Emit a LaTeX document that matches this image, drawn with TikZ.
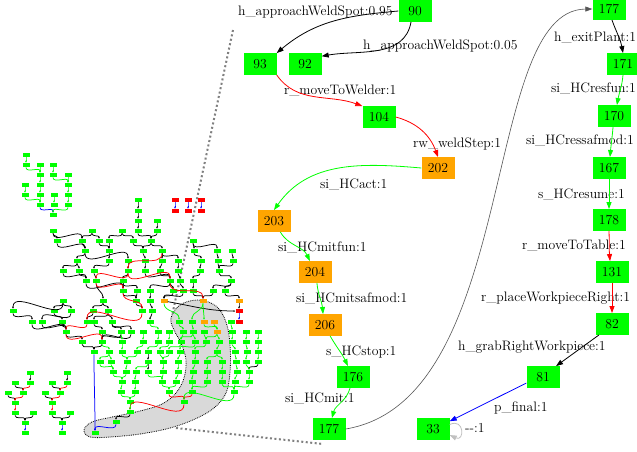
\documentclass[tikz,border=0pt]{standalone}
\usepackage{tikz}
\usetikzlibrary{arrows.meta}

\definecolor{nodegreen}{RGB}{0,255,0}
\definecolor{nodeorange}{RGB}{255,165,0}
\definecolor{nodered}{RGB}{255,0,0}
\definecolor{edgegray}{RGB}{85,85,85}
\definecolor{loopgray}{RGB}{192,192,192}
\definecolor{blobgray}{RGB}{217,217,217}
\definecolor{zoomgray}{RGB}{128,128,128}

\begin{document}
\begin{tikzpicture}[x=1pt, y=-1pt,
      bigbox/.style={fill=nodegreen, minimum width=33pt, minimum height=21.5pt, inner sep=0pt,
          font=\fontsize{13.7}{16}\selectfont},
      lbl/.style={anchor=base west, inner sep=0pt, font=\fontsize{13.7}{16}\selectfont},
      mini/.style={fill=nodegreen, minimum width=7pt, minimum height=4.5pt, inner sep=0pt},
      ed/.style={line width=0.8pt, -{Triangle[length=7pt,width=5pt]}},
      edk/.style={ed, black}, edr/.style={ed, red}, edg/.style={ed, nodegreen},
      edb/.style={ed, blue}, edd/.style={ed, edgegray, line width=0.6pt},
      edl/.style={ed, loopgray},
      ov/.style={line width=0.75pt, -{Triangle[length=1.8pt,width=1.6pt]}},
      ovk/.style={ov, black}, ovr/.style={ov, red}, ovg/.style={ov, nodegreen}, ovb/.style={ov, blue},
      zoomline/.style={zoomgray, line width=2pt, dash pattern=on 2pt off 2.5pt}]

      \fill[white] (0,0) rectangle (637,451);
      \useasboundingbox (0,0) rectangle (637,451);

      % highlighted part of the overview
      \draw[fill=blobgray, line width=0.8pt, densely dotted]
          plot[smooth cycle, tension=0.6] coordinates {
          (171,318) (180,305) (198,300) (216,306) (226,322) (230,345) (230,372) (226,393)
          (214,408) (195,419) (170,428) (140,434) (110,437) (90,437) (84,430) (92,422)
          (112,417) (140,411) (162,404) (176,393) (184,378) (186,360) (181,343) (174,330)};

      \coordinate (zt) at (233,30);
      \coordinate (bt) at (172,316);
      \coordinate (bb) at (176,428);
      \coordinate (zb) at (323,444);
      \draw[zoomline] (zt) -- (bt);
      \draw[zoomline] (bb) -- (zb);

      % overview
      \foreach \x/\y in {26/155,26/165,40/165,53/165,40/175,53/175,68/175,25/185,40/185,68/185,
          25/195,40/195,54/195,68/195,40/205,54/205,68/205,53/215,
          30/373,15/383,30/383,8/393,23/393,15/403,15/413,33/413,25/423,25/433,
          67/373,52/383,67/383,45/393,60/393,52/403,52/413,70/413,62/423,62/433,
          138/200,138/211,138/221,157/221,
          53/231,92/231,122/231,138/231,157/231,
          57/241,82/241,99/241,109/241,133/241,151/241,193/241,
          85/251,109/251,143/251,162/251,194/251,217/251,232/251,
          77/261,109/261,128/261,145/261,162/261,178/261,201/261,218/261,233/261,
          63/271,79/271,94/271,128/271,145/271,160/271,178/271,200/271,219/271,
          86/281,96/281,123/281,170/281,180/281,193/281,231/281,
          123/291,137/291,150/291,173/291,183/291,193/291,213/291,225/291,
          63/301,103/301,136/301,150/301,
          13/311,54/311,71/311,93/311,108/311,142/311,152/311,
          32/322,42/322,62/322,87/322,94/322,112/322,150/322,179/322,192/322,231/322,
          66/332,102/332,121/332,131/332,143/332,158/332,169/332,183/332,193/332,204/332,232/332,246/332,258/332,
          82/342,102/342,122/342,143/342,158/342,169/342,181/342,195/342,206/342,219/342,232/342,246/342,258/342,
          94/352,109/352,122/352,137/352,148/352,160/352,169/352,180/352,195/352,217/352,235/352,247/352,258/352,
          100/362,111/362,127/362,148/362,163/362,178/362,195/362,207/362,222/362,236/362,246/362,258/362,
          113/372,126/372,136/372,148/372,163/372,178/372,193/372,207/372,222/372,237/372,249/372,
          122/382,135/382,162/382,176/382,192/382,207/382,222/382,235/382,249/382,
          121/392,135/392,169/392,192/392,234/392,
          130/402,184/402,130/412,116/422,95/433}
          \node[mini] (o\x-\y) at (\x,\y) {};
      \foreach \x/\y in {175/200,188/200,201/200,175/211,188/211,201/211,239/311,239/322}
          \node[mini, fill=nodered] (o\x-\y) at (\x,\y) {};
      \foreach \x/\y in {164/301,203/301,239/301,204/322,214/322,217/332}
          \node[mini, fill=nodeorange] (o\x-\y) at (\x,\y) {};

      \foreach \a/\b in {30-373/30-383,15-383/23-393,8-393/15-403,15-413/25-423,33-413/25-423,
          67-373/67-383,52-383/60-393,45-393/52-403,52-413/62-423,70-413/62-423,
          138-200/138-211,138-211/138-221,138-221/138-231,157-221/157-231,
          53-231/57-241,53-231/82-241,92-231/82-241,92-231/99-241,122-231/109-241,122-231/133-241,
          138-231/151-241,157-231/151-241,
          57-241/85-251,82-241/85-251,99-241/109-251,109-241/109-251,133-241/143-251,151-241/143-251,
          151-241/162-251,193-241/194-251,193-241/217-251,
          85-251/77-261,85-251/128-261,109-251/109-261,143-251/145-261,162-251/162-261,162-251/178-261,
          194-251/201-261,217-251/218-261,232-251/233-261,
          77-261/63-271,77-261/79-271,109-261/94-271,128-261/128-271,145-261/145-271,162-261/160-271,
          178-261/178-271,201-261/200-271,218-261/219-271,233-261/219-271,
          63-271/86-281,79-271/86-281,94-271/96-281,128-271/123-281,145-271/170-281,160-271/170-281,
          178-271/180-281,200-271/193-281,219-271/231-281,
          86-281/123-291,123-281/123-291,123-281/137-291,170-281/150-291,170-281/173-291,180-281/183-291,
          193-281/193-291,231-281/213-291,231-281/225-291,96-281/103-301,
          123-291/136-301,137-291/136-301,150-291/150-301,173-291/164-301,183-291/164-301,193-291/203-301,
          213-291/203-301,225-291/239-301,
          63-301/54-311,63-301/13-311,63-301/71-311,103-301/93-311,103-301/108-311,136-301/142-311,
          150-301/152-311,239-301/239-311,
          13-311/32-322,54-311/62-322,71-311/42-322,93-311/87-322,108-311/94-322,108-311/112-322,152-311/150-322,
          32-322/66-332,42-322/66-332,62-322/66-332,94-322/102-332,112-322/121-332,112-322/131-332,
          66-332/82-342,102-332/102-342,121-332/102-342,131-332/102-342,
          82-342/94-352,102-342/94-352,
          148-352/148-362,148-362/148-372,258-362/249-372,130-412/116-422}
          \draw[ovk] (o\a) to[out=-90,in=90] (o\b);
      \draw[ovk] (o164-301) to[out=-10,in=180] (o239-311);

      \foreach \a/\b in {30-383/23-393,23-393/15-403,15-403/15-413,
          67-383/60-393,60-393/52-403,52-403/52-413,
          162-251/128-271,128-271/96-281,128-271/170-281,96-281/123-291,170-281/203-301,
          123-291/142-311,142-311/87-322,87-322/66-332,66-332/102-342,
          169-392/184-402,192-392/184-402,184-402/130-412}
          \draw[ovr] (o\a) to[out=-90,in=90] (o\b);

      \foreach \a/\b in {40-205/53-215,25-423/25-433,62-423/62-433,175-200/175-211,188-200/188-211,
          201-200/201-211,239-311/239-322,116-422/95-433,94-352/95-433}
          \draw[ovb] (o\a) to[out=-90,in=90] (o\b);

      \foreach \a/\b in {26-155/26-165,26-165/40-175,40-165/40-175,53-165/53-175,53-175/68-185,
          68-175/68-185,40-175/40-185,25-185/25-195,40-185/40-195,68-185/68-195,25-195/40-205,
          40-195/40-205,54-195/54-205,68-195/68-205,68-205/53-215,
          203-301/204-322,204-322/217-332,214-322/217-332,217-332/206-342,217-332/219-342,
          164-301/179-322,203-301/192-322,
          150-322/158-332,179-322/183-332,192-322/193-332,231-322/232-332,
          121-332/122-342,143-332/143-342,158-332/158-342,169-332/169-342,183-332/181-342,
          193-332/181-342,204-332/206-342,232-332/232-342,246-332/246-342,258-332/258-342,193-332/195-342,
          102-342/109-352,122-342/122-352,143-342/137-352,158-342/148-352,169-342/160-352,181-342/169-352,
          195-342/180-352,206-342/195-352,219-342/217-352,232-342/235-352,246-342/247-352,258-342/258-352,
          109-352/111-362,122-352/127-362,137-352/127-362,160-352/163-362,169-352/163-362,180-352/178-362,
          195-352/195-362,217-352/207-362,217-352/222-362,235-352/236-362,247-352/246-362,258-352/258-362,
          109-352/100-362,
          100-362/113-372,111-362/113-372,127-362/126-372,148-362/136-372,163-362/163-372,178-362/178-372,
          195-362/193-372,207-362/207-372,222-362/222-372,236-362/237-372,246-362/249-372,
          113-372/122-382,126-372/122-382,136-372/135-382,148-372/162-382,163-372/162-382,178-372/176-382,
          193-372/192-382,207-372/207-382,222-372/222-382,237-372/235-382,249-372/249-382,
          122-382/121-392,135-382/135-392,162-382/169-392,176-382/169-392,192-382/192-392,207-382/192-392,
          222-382/234-392,235-382/234-392,249-382/234-392,
          121-392/130-402,135-392/130-402,234-392/184-402,130-402/130-412}
          \draw[ovg] (o\a) to[out=-90,in=90] (o\b);

      % enlarged path
      \node[bigbox] (n90) at (415,11) {90};
      \node[bigbox] (n93) at (260,64) {93};
      \node[bigbox] (n92) at (305,64) {92};
      \node[bigbox] (n104) at (379,117) {104};
      \node[bigbox, fill=nodeorange] (n202) at (438,168) {202};
      \node[bigbox, fill=nodeorange] (n203) at (274,221) {203};
      \node[bigbox, fill=nodeorange] (n204) at (315,272) {204};
      \node[bigbox, fill=nodeorange] (n206) at (325,325) {206};
      \node[bigbox] (n176) at (353,377) {176};
      \node[bigbox] (n177a) at (329,429) {177};
      \node[bigbox] (n177b) at (609,9) {177};
      \node[bigbox] (n171) at (623,64) {171};
      \node[bigbox] (n170) at (614,116) {170};
      \node[bigbox] (n167) at (609,168) {167};
      \node[bigbox] (n178) at (609,220) {178};
      \node[bigbox] (n131) at (612,272) {131};
      \node[bigbox] (n82) at (612,324) {82};
      \node[bigbox] (n81) at (543,377) {81};
      \node[bigbox] (n33) at (433,429) {33};

      \node[lbl] (l90a) at (238,15.5) {h\_approachWeldSpot:0.95};
      \node[lbl] (l90b) at (363,49.5) {h\_approachWeldSpot:0.05};
      \node[lbl] (l93) at (284,94.5) {r\_moveToWelder:1};
      \node[lbl] (l104) at (413,147.5) {rw\_weldStep:1};
      \node[lbl] (l202) at (320,188.5) {si\_HCact:1};
      \node[lbl] (l203) at (278,251.5) {si\_HCmitfun:1};
      \node[lbl] (l204) at (296,302.5) {si\_HCmitsafmod:1};
      \node[lbl] (l206) at (326,355.5) {s\_HCstop:1};
      \node[lbl] (l176) at (285,402.5) {si\_HCmit:1};
      \node[lbl] (l177) at (554,41.5) {h\_exitPlant:1};
      \node[lbl] (l171) at (551,92.5) {si\_HCresfun:1};
      \node[lbl] (l170) at (526,144.5) {si\_HCressafmod:1};
      \node[lbl] (l167) at (538,198.5) {s\_HCresume:1};
      \node[lbl] (l178) at (522,249.5) {r\_moveToTable:1};
      \node[lbl] (l131) at (481,301.5) {r\_placeWorkpieceRight:1};
      \node[lbl] (l82) at (458,350.5) {h\_grabRightWorkpiece:1};
      \node[lbl] (l81) at (494,411.5) {p\_final:1};
      \node[lbl] (l33) at (465,432.5) {-{}-:1};

      \draw[edk] (n90.west) to[out=185,in=40] (n93.north east);
      \draw[edk] (n90.250) to[out=-100,in=10] (n92.25);
      \draw[edr] (n93.south east) to[out=-55,in=160] (n104.north west);
      \draw[edr] (n104.east) to[out=-15,in=110] (n202.north);
      \draw[edg] (n202.west) to[out=175,in=55] (n203.north);
      \draw[edg] (n203.-60) to[out=-60,in=115] (n204.115);
      \draw[edg] (n204.-80) to[out=-85,in=95] (n206.100);
      \draw[edg] (n206.-65) to[out=-60,in=115] (n176.115);
      \draw[edg] (n176.-105) to[out=-105,in=75] (n177a.75);
      \draw[edd] (n177a.east) .. controls (520,400) and (480,10) .. (n177b.west);
      \draw[edk] (n177b.-75) to[out=-70,in=100] (n171.north);
      \draw[edg] (n171.south) to[out=-95,in=80] (n170.75);
      \draw[edg] (n170.-95) to[out=-95,in=85] (n167.85);
      \draw[edg] (n167.south) -- (n178.north);
      \draw[edr] (n178.south) to[out=-88,in=95] (n131.100);
      \draw[edr] (n131.south) -- (n82.north);
      \draw[edk] (n82.-140) -- (n81.40);
      \draw[edb] (n81.200) -- (n33.25);
      \draw[edl] (n33.15) .. controls +(15,-7) and +(15,7) .. (n33.-20);
\end{tikzpicture}
\end{document}
